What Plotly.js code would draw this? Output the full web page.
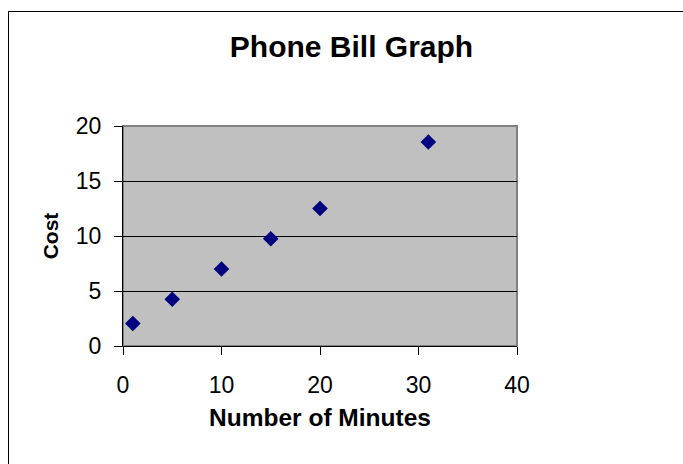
<!DOCTYPE html>
<html>
<head>
<meta charset="utf-8">
<script src="https://cdn.plot.ly/plotly-3.0.1.min.js"></script>
<style>
  html, body { margin: 0; padding: 0; background: #ffffff; }
  #frame { position: absolute; left: 8px; top: 11px; width: 700px; height: 500px; border: 1.5px solid #000; box-sizing: border-box; }
  #chart { position: absolute; left: 0; top: 0; width: 683px; height: 464px; }
</style>
</head>
<body>
<div id="frame"></div>
<div id="chart"></div>
<script>
const minutes = [1, 5, 10, 15, 20, 31];
const cost = [2.05, 4.25, 7.0, 9.75, 12.5, 18.55];
const titleText = "Phone Bill Graph";
const xTitle = "Number of Minutes";
const yTitle = "Cost";

const FONT = "Arial, 'Liberation Sans', sans-serif";

const trace = {
  type: "scatter",
  mode: "markers",
  x: minutes,
  y: cost,
  marker: { symbol: "diamond", size: 12, color: "#000080", line: { width: 0 } },
  showlegend: false,
  hoverinfo: "x+y"
};

const layout = {
  width: 683,
  height: 464,
  margin: { l: 123, r: 166, t: 126, b: 118, pad: 0 },
  paper_bgcolor: "rgba(0,0,0,0)",
  plot_bgcolor: "#c0c0c0",
  font: { family: FONT, color: "#000000", size: 23 },
  title: {
    text: titleText,
    font: { family: FONT, size: 30, weight: 700, color: "#000" },
    xref: "container", yref: "container",
    x: 351.5 / 683, y: 1 - 46 / 464,
    xanchor: "center", yanchor: "middle"
  },
  xaxis: {
    range: [0, 40],
    tickvals: [0, 10, 20, 30, 40],
    ticks: "outside", ticklen: 8, tickcolor: "#000", tickwidth: 1,
    ticklabelstandoff: 10,
    showline: true, linecolor: "#000", linewidth: 1,
    showgrid: false, zeroline: false,
    tickfont: { family: FONT, size: 23 },
    title: { text: xTitle, font: { family: FONT, size: 24.5, weight: 700 }, standoff: 12 },
    automargin: false, fixedrange: true
  },
  yaxis: {
    range: [0, 20],
    tickvals: [0, 5, 10, 15, 20],
    ticks: "outside", ticklen: 8, tickcolor: "#000", tickwidth: 1,
    ticklabelstandoff: 8,
    showline: true, linecolor: "#000", linewidth: 1,
    showgrid: true, gridcolor: "#000", gridwidth: 1,
    zeroline: false,
    tickfont: { family: FONT, size: 23 },
    title: { text: yTitle, font: { family: FONT, size: 21, weight: 700 }, standoff: 11 },
    automargin: false, fixedrange: true
  },
  shapes: [{
    type: "rect", xref: "paper", yref: "paper", x0: 0, x1: 1, y0: 0, y1: 1,
    line: { color: "#808080", width: 2 }, fillcolor: "rgba(0,0,0,0)", layer: "below"
  }]
};

Plotly.newPlot("chart", [trace], layout, { displayModeBar: false, staticPlot: true });
</script>
</body>
</html>
